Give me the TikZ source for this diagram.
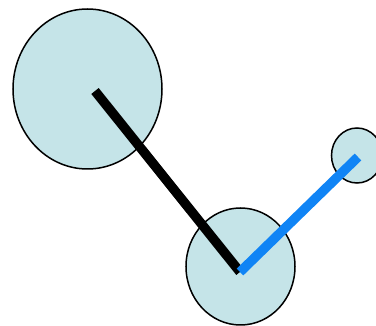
\documentclass[tikz,border=0pt]{standalone}
\usetikzlibrary{shapes.geometric}
\definecolor{ballfill}{RGB}{197,228,232}
\definecolor{armblue}{RGB}{16,132,245}
\tikzset{
  ball/.style={ellipse, draw=black, line width=1.5pt, fill=ballfill, inner sep=0pt},
  arm/.style={line width=9.5pt, line cap=butt}
}
\begin{document}
\begin{tikzpicture}[x=1pt,y=-1pt]
\useasboundingbox (0,0) rectangle (376,326);
\clip (0,0) rectangle (376,326);
\node[ball, minimum width=149pt, minimum height=160pt] (big) at (87.5,89) {};
\node[ball, minimum width=109pt, minimum height=117pt] (mid) at (240.5,266.5) {};
\node[ball, minimum width=51pt, minimum height=55pt] (small) at (357,155.5) {};
\coordinate (p1) at (95,91);
\coordinate (p2) at (240,272);
\coordinate (p3) at (358,157);
\draw[arm, black] (p1) -- (p2);
\draw[arm, armblue] (p2) -- (p3);
\end{tikzpicture}
\end{document}
